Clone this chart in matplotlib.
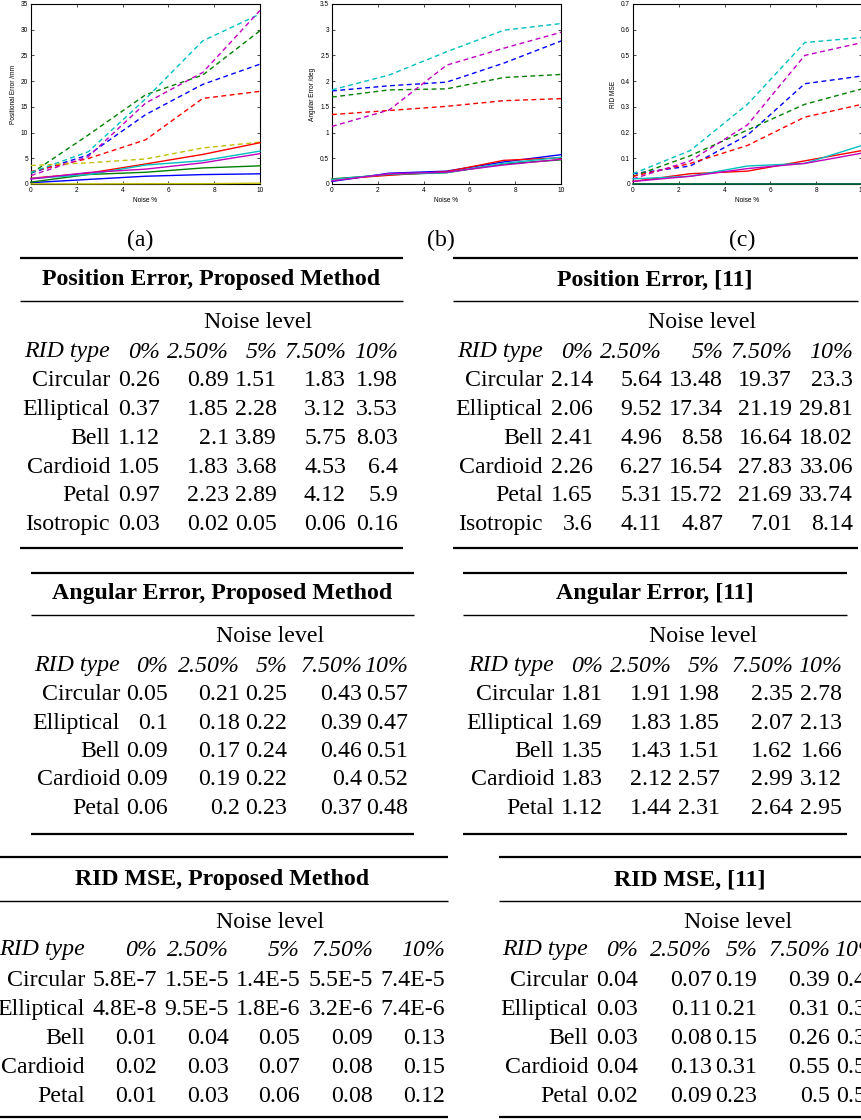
import numpy as np
import matplotlib.pyplot as plt

# ------------------------ data ------------------------
noise = [0, 2.5, 5, 7.5, 10]
noise_labels = ['0%', '2.50%', '5%', '7.50%', '10%']
rid_types = ['Circular', 'Elliptical', 'Bell', 'Cardioid', 'Petal', 'Isotropic']

pos_prop = [[0.26, 0.89, 1.51, 1.83, 1.98],
            [0.37, 1.85, 2.28, 3.12, 3.53],
            [1.12, 2.1, 3.89, 5.75, 8.03],
            [1.05, 1.83, 3.68, 4.53, 6.4],
            [0.97, 2.23, 2.89, 4.12, 5.9],
            [0.03, 0.02, 0.05, 0.06, 0.16]]
pos_ref = [[2.14, 5.64, 13.48, 19.37, 23.3],
           [2.06, 9.52, 17.34, 21.19, 29.81],
           [2.41, 4.96, 8.58, 16.64, 18.02],
           [2.26, 6.27, 16.54, 27.83, 33.06],
           [1.65, 5.31, 15.72, 21.69, 33.74],
           [3.6, 4.11, 4.87, 7.01, 8.14]]

ang_prop = [[0.05, 0.21, 0.25, 0.43, 0.57],
            [0.1, 0.18, 0.22, 0.39, 0.47],
            [0.09, 0.17, 0.24, 0.46, 0.51],
            [0.09, 0.19, 0.22, 0.4, 0.52],
            [0.06, 0.2, 0.23, 0.37, 0.48]]
ang_ref = [[1.81, 1.91, 1.98, 2.35, 2.78],
           [1.69, 1.83, 1.85, 2.07, 2.13],
           [1.35, 1.43, 1.51, 1.62, 1.66],
           [1.83, 2.12, 2.57, 2.99, 3.12],
           [1.12, 1.44, 2.31, 2.64, 2.95]]

mse_prop = [[5.8e-7, 1.5e-5, 1.4e-5, 5.5e-5, 7.4e-5],
            [4.8e-8, 9.5e-5, 1.8e-6, 3.2e-6, 7.4e-6],
            [0.01, 0.04, 0.05, 0.09, 0.13],
            [0.02, 0.03, 0.07, 0.08, 0.15],
            [0.01, 0.03, 0.06, 0.08, 0.12]]
mse_ref = [[0.04, 0.07, 0.19, 0.39, 0.42],
           [0.03, 0.11, 0.21, 0.31, 0.37],
           [0.03, 0.08, 0.15, 0.26, 0.31],
           [0.04, 0.13, 0.31, 0.55, 0.57],
           [0.02, 0.09, 0.23, 0.5, 0.55]]

# matlab default line colours: b g r c m y
colors = ['#0000ff', '#008000', '#ff0000', '#00bfbf', '#bf00bf', '#bfbf00']

# ------------------------ figure ------------------------
W, H = 861, 1120
fig = plt.figure(figsize=(W / 100, H / 100), dpi=100)
serif = 'Liberation Serif'
sans = 'Liberation Sans'


def px_axes(l, t, r, b):
    return fig.add_axes([l / W, 1 - b / H, (r - l) / W, (b - t) / H])


def line_plot(ax, prop, ref, ylim, yticks, ylabel):
    for i, row in enumerate(ref):
        ax.plot(noise, row, color=colors[i], lw=1.0, ls=(0, (3.5, 2.5)),
                zorder=3, clip_on=False)
    for i, row in enumerate(prop):
        ax.plot(noise, row, color=colors[i], lw=1.0, zorder=3, clip_on=False)
    ax.set_xlim(0, 10)
    ax.set_ylim(*ylim)
    ax.set_xticks([0, 2, 4, 6, 8, 10])
    ax.set_yticks(yticks)
    ax.set_yticklabels([f'{t:g}' for t in yticks])
    ax.tick_params(direction='in', length=2, width=0.5, labelsize=4.7,
                   top=True, right=True, pad=2)
    for lab in ax.get_xticklabels() + ax.get_yticklabels():
        lab.set_family(sans)
    for s in ax.spines.values():
        s.set_linewidth(0.8)
    ax.set_xlabel('Noise %', fontsize=4.7, family=sans, labelpad=2)
    ax.set_ylabel(ylabel, fontsize=4.7, family=sans, labelpad=3)


ax_a = px_axes(31, 4, 260, 184)
line_plot(ax_a, pos_prop, pos_ref, (0, 35), list(range(0, 36, 5)),
          'Positional Error /mm')
ax_b = px_axes(332, 4, 561, 184)
line_plot(ax_b, ang_prop, ang_ref, (0, 3.5), list(np.arange(0, 3.51, 0.5)),
          'Angular Error /deg')
ax_c = px_axes(633, 4, 862, 184)
line_plot(ax_c, mse_prop, mse_ref, (0, 0.7), list(np.round(np.arange(0, 0.71, 0.1), 1)),
          'RID MSE')

# ------------------------ overlay for captions and tables ------------------------
lay = fig.add_axes([0, 0, 1, 1])
lay.set_xlim(0, W)
lay.set_ylim(H, 0)
lay.axis('off')

fs = 17.2
for cap, cx in zip(['(a)', '(b)', '(c)'], [140, 441, 742]):
    lay.text(cx, 240, cap, ha='center', va='center', fontsize=fs, family=serif)


def fmt(v):
    if v < 0.001:
        m, e = f'{v:.1E}'.split('E')
        return f'{m}E{int(e)}'
    return f'{v:g}'


def table(title, values, names, x0, x1, ys, cols, title_x, noise_x):
    top, ty, r2, ny, hy, ry0, rdy, bot = ys
    lay.plot([x0, x1], [top, top], color='black', lw=1.6, solid_capstyle='butt')
    lay.plot([x0, x1], [r2, r2], color='black', lw=1.0, solid_capstyle='butt')
    lay.plot([x0, x1], [bot, bot], color='black', lw=1.6, solid_capstyle='butt')
    lay.text(title_x, ty, title, ha='center', va='center', fontsize=fs,
             family=serif, weight='bold')
    lay.text(noise_x, ny, 'Noise level', ha='center', va='center', fontsize=fs,
             family=serif)
    lay.text(cols[0], hy, 'RID type', ha='right', va='center', fontsize=fs,
             family=serif, style='italic')
    for c, lab in zip(cols[1:], noise_labels):
        lay.text(c, hy, lab, ha='right', va='center', fontsize=fs,
                 family=serif, style='italic')
    for i, row in enumerate(values):
        y = ry0 + rdy * i
        lay.text(cols[0], y, names[i], ha='right', va='center', fontsize=fs,
                 family=serif)
        for c, v in zip(cols[1:], row):
            lay.text(c, y, fmt(v), ha='right', va='center', fontsize=fs,
                     family=serif)


ys1 = (258, 280, 301, 322, 352, 381, 28.7, 548)
table('Position Error, Proposed Method', pos_prop, rid_types, 20, 403, ys1,
      [110, 160, 229, 277, 346, 398], 211, 258)
table('Position Error, [11]', pos_ref, rid_types, 453, 858, ys1,
      [543, 593, 662, 723, 792, 853], 655, 702)

ys2 = (573, 593, 615, 637, 666, 695, 28.3, 834)
table('Angular Error, Proposed Method', ang_prop, rid_types, 31, 414, ys2,
      [120, 168, 240, 287, 362, 408], 222, 270)
table('Angular Error, [11]', ang_ref, rid_types, 463, 847, ys2,
      [554, 603, 672, 720, 793, 842], 655, 703)

ys3 = (857, 880, 901, 923, 950, 980, 29.2, 1117)
table('RID MSE, Proposed Method', mse_prop, rid_types, -10, 448, ys3,
      [85, 157, 229, 300, 373, 445], 222, 270)
table('RID MSE, [11]', mse_ref, rid_types, 499, 900, ys3,
      [588, 638, 712, 757, 830, 878], 690, 738)

fig.savefig('out.png', dpi=100)
